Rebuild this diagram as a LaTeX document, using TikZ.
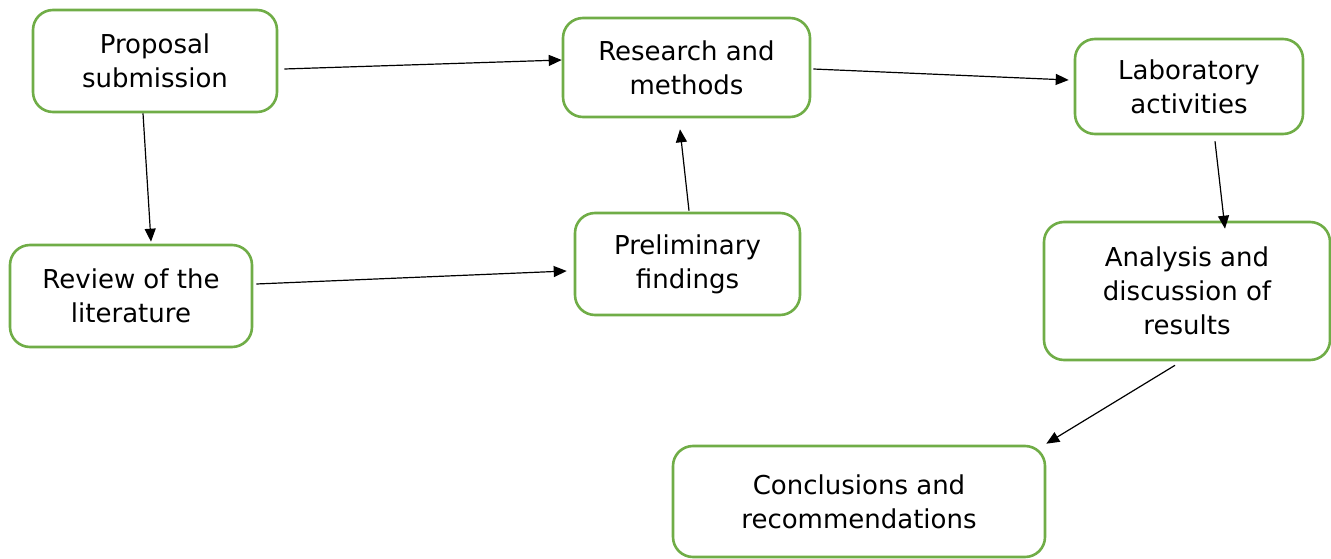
\documentclass[tikz,border=0pt]{standalone}
\usepackage{fontspec}
\setmainfont{DejaVu Sans}
\usetikzlibrary{arrows.meta,calc}
\begin{document}
\begin{tikzpicture}[x=1pt,y=1pt,
  box/.style={draw=boxgreen,line width=2.6pt,rounded corners=20pt,fill=white,
    align=center,inner sep=0pt,font=\fontsize{26}{34}\selectfont},
  arr/.style={line width=1.2pt,-{Triangle[length=13pt,width=11pt]}}]
\definecolor{boxgreen}{RGB}{112,173,71}
\useasboundingbox (0,0) rectangle (1331,558);
\node[box,minimum width=244pt,minimum height=102pt] (prop) at (155,497) {Proposal\\submission};
\node[box,minimum width=247pt,minimum height=99pt] (res) at (686.5,490.5) {Research and\\methods};
\node[box,minimum width=228pt,minimum height=95pt] (lab) at (1189,471.5) {Laboratory\\activities};
\node[box,minimum width=242pt,minimum height=102pt] (rev) at (131,262) {Review of the\\literature};
\node[box,minimum width=225pt,minimum height=102pt] (pre) at (687.5,294) {Preliminary\\findings};
\node[box,minimum width=286pt,minimum height=138pt] (ana) at (1187,267) {Analysis and\\discussion of\\results};
\node[box,minimum width=372pt,minimum height=111pt] (con) at (859,56.5) {Conclusions and\\recommendations};
\draw[arr] ($(prop.east)+(6,-8)$) -- ($(res.west)+(0,7.5)$);
\draw[arr] ($(res.east)+(2,-1.5)$) -- ($(lab.west)+(-5,6.5)$);
\draw[arr] ($(prop.south)+(-12,0)$) -- ($(rev.north)+(20,2)$);
\draw[arr] ($(rev.east)+(3,12)$) -- ($(pre.west)+(-7,-7)$);
\draw[arr] ($(pre.north)+(1.5,1)$) -- ($(res.south)+(-6.5,-11)$);
\draw[arr] ($(lab.south)+(26,-6)$) -- ($(ana.north)+(38,-8)$);
\draw[arr] ($(ana.south)+(-12,-4)$) -- ($(con.north east)+(0,1)$);
\end{tikzpicture}
\end{document}
